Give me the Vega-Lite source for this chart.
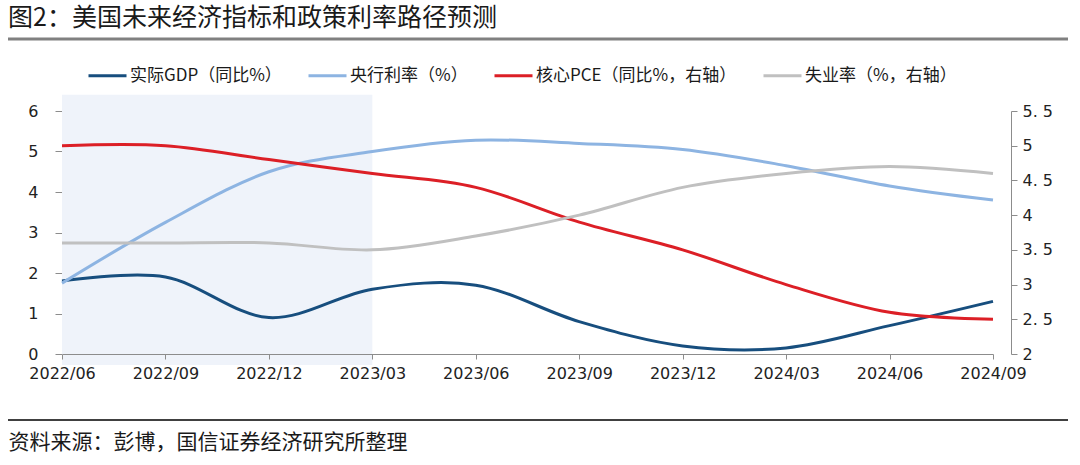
{
  "$schema": "https://vega.github.io/schema/vega-lite/v6.json",
  "width": 1060,
  "height": 243,
  "autosize": {"type": "none"},
  "padding": {"left": 8, "top": 111, "right": 12, "bottom": 111},
  "background": "white",
  "title": {
    "text": "图2：美国未来经济指标和政策利率路径预测",
    "anchor": "start",
    "frame": "group",
    "font": "Noto Sans CJK SC",
    "fontSize": 25,
    "fontWeight": "normal",
    "color": "#1a1a1a",
    "baseline": "top",
    "offset": 6
  },
  "config": {
    "view": {"stroke": null},
    "font": "Noto Sans CJK SC",
    "axis": {
      "domainColor": "#8c8c8c",
      "tickColor": "#8c8c8c",
      "grid": false,
      "labelFont": "DejaVu Sans",
      "labelFontSize": 16,
      "labelColor": "#222222"
    },
    "legend": {
      "orient": "none",
      "legendX": 79,
      "legendY": -56,
      "direction": "horizontal",
      "symbolType": "stroke",
      "symbolSize": 1444,
      "symbolStrokeWidth": 3,
      "labelFontSize": 17,
      "labelFont": "Noto Sans CJK SC",
      "labelColor": "#1a1a1a",
      "columnPadding": 20,
      "labelOffset": 2,
      "labelLimit": 400
    }
  },
  "datasets": {
    "series": [
      {"quarter": "2022/06", "series": "实际GDP（同比%）", "value": 1.8},
      {"quarter": "2022/09", "series": "实际GDP（同比%）", "value": 1.9},
      {"quarter": "2022/12", "series": "实际GDP（同比%）", "value": 0.9},
      {"quarter": "2023/03", "series": "实际GDP（同比%）", "value": 1.6},
      {"quarter": "2023/06", "series": "实际GDP（同比%）", "value": 1.7},
      {"quarter": "2023/09", "series": "实际GDP（同比%）", "value": 0.8},
      {"quarter": "2023/12", "series": "实际GDP（同比%）", "value": 0.2},
      {"quarter": "2024/03", "series": "实际GDP（同比%）", "value": 0.15},
      {"quarter": "2024/06", "series": "实际GDP（同比%）", "value": 0.7},
      {"quarter": "2024/09", "series": "实际GDP（同比%）", "value": 1.3},
      {"quarter": "2022/06", "series": "央行利率（%）", "value": 1.75},
      {"quarter": "2022/09", "series": "央行利率（%）", "value": 3.25},
      {"quarter": "2022/12", "series": "央行利率（%）", "value": 4.5},
      {"quarter": "2023/03", "series": "央行利率（%）", "value": 5.0},
      {"quarter": "2023/06", "series": "央行利率（%）", "value": 5.28},
      {"quarter": "2023/09", "series": "央行利率（%）", "value": 5.2},
      {"quarter": "2023/12", "series": "央行利率（%）", "value": 5.05},
      {"quarter": "2024/03", "series": "央行利率（%）", "value": 4.65},
      {"quarter": "2024/06", "series": "央行利率（%）", "value": 4.15},
      {"quarter": "2024/09", "series": "央行利率（%）", "value": 3.8},
      {"quarter": "2022/06", "series": "核心PCE（同比%，右轴）", "value": 5.0},
      {"quarter": "2022/09", "series": "核心PCE（同比%，右轴）", "value": 5.0},
      {"quarter": "2022/12", "series": "核心PCE（同比%，右轴）", "value": 4.8},
      {"quarter": "2023/03", "series": "核心PCE（同比%，右轴）", "value": 4.6},
      {"quarter": "2023/06", "series": "核心PCE（同比%，右轴）", "value": 4.4},
      {"quarter": "2023/09", "series": "核心PCE（同比%，右轴）", "value": 3.9},
      {"quarter": "2023/12", "series": "核心PCE（同比%，右轴）", "value": 3.5},
      {"quarter": "2024/03", "series": "核心PCE（同比%，右轴）", "value": 3.0},
      {"quarter": "2024/06", "series": "核心PCE（同比%，右轴）", "value": 2.6},
      {"quarter": "2024/09", "series": "核心PCE（同比%，右轴）", "value": 2.5},
      {"quarter": "2022/06", "series": "失业率（%，右轴）", "value": 3.6},
      {"quarter": "2022/09", "series": "失业率（%，右轴）", "value": 3.6},
      {"quarter": "2022/12", "series": "失业率（%，右轴）", "value": 3.6},
      {"quarter": "2023/03", "series": "失业率（%，右轴）", "value": 3.5},
      {"quarter": "2023/06", "series": "失业率（%，右轴）", "value": 3.7},
      {"quarter": "2023/09", "series": "失业率（%，右轴）", "value": 4.0},
      {"quarter": "2023/12", "series": "失业率（%，右轴）", "value": 4.4},
      {"quarter": "2024/03", "series": "失业率（%，右轴）", "value": 4.6},
      {"quarter": "2024/06", "series": "失业率（%，右轴）", "value": 4.7},
      {"quarter": "2024/09", "series": "失业率（%，右轴）", "value": 4.6}
    ]
  },
  "data": {"name": "series"},
  "layer": [
    {
      "layer": [
        {
          "data": {"values": [{}]},
          "mark": {"type": "rect", "color": "#EFF3FA"},
          "encoding": {
            "x": {
              "datum": "2022/06",
              "type": "ordinal",
              "scale": {"type": "point", "domain": ["2022/06", "2022/09", "2022/12", "2023/03", "2023/06", "2023/09", "2023/12", "2024/03", "2024/06", "2024/09"], "range": [54, 985], "padding": 0},
              "axis": {"orient": "bottom", "labelAngle": 0, "tickSize": 5, "labelPadding": 6, "title": "资料来源：彭博，国信证券经济研究所整理", "titleX": 0, "titleY": 77, "titleAlign": "left", "titleAnchor": "start", "titleBaseline": "top", "titleFont": "Noto Sans CJK SC", "titleFontSize": 21, "titleFontWeight": "normal", "titleColor": "#1a1a1a"}
            },
            "x2": {"datum": "2023/03"},
            "y": {
              "datum": 6.4,
              "type": "quantitative",
              "scale": {"domain": [0, 6]},
              "axis": {"orient": "left", "offset": -54, "values": [0, 1, 2, 3, 4, 5, 6], "tickSize": 7, "labelPadding": 17, "title": null}
            },
            "y2": {"datum": -0.27}
          }
        },
        {
          "data": {"values": [{}]},
          "mark": {"type": "rule", "color": "#808080", "strokeWidth": 3},
          "encoding": {
            "y": {
              "datum": 7.78,
              "type": "quantitative",
              "scale": {"domain": [0, 6]},
              "axis": {"orient": "left", "offset": -54, "values": [0, 1, 2, 3, 4, 5, 6], "tickSize": 7, "labelPadding": 17, "title": null}
            }
          }
        },
        {
          "data": {"values": [{}]},
          "mark": {"type": "rule", "color": "#000000", "strokeWidth": 1.5},
          "encoding": {
            "y": {
              "datum": -1.63,
              "type": "quantitative",
              "scale": {"domain": [0, 6]},
              "axis": {"orient": "left", "offset": -54, "values": [0, 1, 2, 3, 4, 5, 6], "tickSize": 7, "labelPadding": 17, "title": null}
            }
          }
        },
        {
          "transform": [{"filter": {"field": "series", "oneOf": ["实际GDP（同比%）", "央行利率（%）"]}}],
          "mark": {"type": "line", "interpolate": "cardinal", "strokeWidth": 3},
          "encoding": {
            "x": {
              "field": "quarter",
              "type": "ordinal",
              "scale": {"type": "point", "domain": ["2022/06", "2022/09", "2022/12", "2023/03", "2023/06", "2023/09", "2023/12", "2024/03", "2024/06", "2024/09"], "range": [54, 985], "padding": 0},
              "axis": {"orient": "bottom", "labelAngle": 0, "tickSize": 5, "labelPadding": 6, "title": "资料来源：彭博，国信证券经济研究所整理", "titleX": 0, "titleY": 77, "titleAlign": "left", "titleAnchor": "start", "titleBaseline": "top", "titleFont": "Noto Sans CJK SC", "titleFontSize": 21, "titleFontWeight": "normal", "titleColor": "#1a1a1a"}
            },
            "y": {
              "field": "value",
              "type": "quantitative",
              "scale": {"domain": [0, 6]},
              "axis": {"orient": "left", "offset": -54, "values": [0, 1, 2, 3, 4, 5, 6], "tickSize": 7, "labelPadding": 17, "title": null}
            },
            "color": {
              "field": "series",
              "type": "nominal",
              "scale": {
                "domain": ["实际GDP（同比%）", "央行利率（%）", "核心PCE（同比%，右轴）", "失业率（%，右轴）"],
                "range": ["#174E7E", "#8DB4E2", "#DC1F26", "#C0C0C0"]
              },
              "legend": {"title": null}
            }
          }
        }
      ]
    },
    {
      "transform": [{"filter": {"field": "series", "oneOf": ["核心PCE（同比%，右轴）", "失业率（%，右轴）"]}}],
      "mark": {"type": "line", "interpolate": "cardinal", "strokeWidth": 3},
      "encoding": {
        "x": {
          "field": "quarter",
          "type": "ordinal",
          "scale": {"type": "point", "domain": ["2022/06", "2022/09", "2022/12", "2023/03", "2023/06", "2023/09", "2023/12", "2024/03", "2024/06", "2024/09"], "range": [54, 985], "padding": 0},
          "axis": {"orient": "bottom", "labelAngle": 0, "tickSize": 5, "labelPadding": 6, "title": "资料来源：彭博，国信证券经济研究所整理", "titleX": 0, "titleY": 77, "titleAlign": "left", "titleAnchor": "start", "titleBaseline": "top", "titleFont": "Noto Sans CJK SC", "titleFontSize": 21, "titleFontWeight": "normal", "titleColor": "#1a1a1a"}
        },
        "y": {
          "field": "value",
          "type": "quantitative",
          "scale": {"domain": [2, 5.5]},
          "axis": {
            "orient": "right",
            "offset": -57,
            "values": [2, 2.5, 3, 3.5, 4, 4.5, 5, 5.5],
            "tickSize": 6,
            "labelPadding": 5,
            "title": null,
            "labelExpr": "replace(format(datum.value, '~g'), '.', '. ')"
          }
        },
        "color": {
          "field": "series",
          "type": "nominal",
          "scale": {
            "domain": ["实际GDP（同比%）", "央行利率（%）", "核心PCE（同比%，右轴）", "失业率（%，右轴）"],
            "range": ["#174E7E", "#8DB4E2", "#DC1F26", "#C0C0C0"]
          },
          "legend": {"title": null}
        }
      }
    }
  ],
  "resolve": {"scale": {"y": "independent"}}
}
